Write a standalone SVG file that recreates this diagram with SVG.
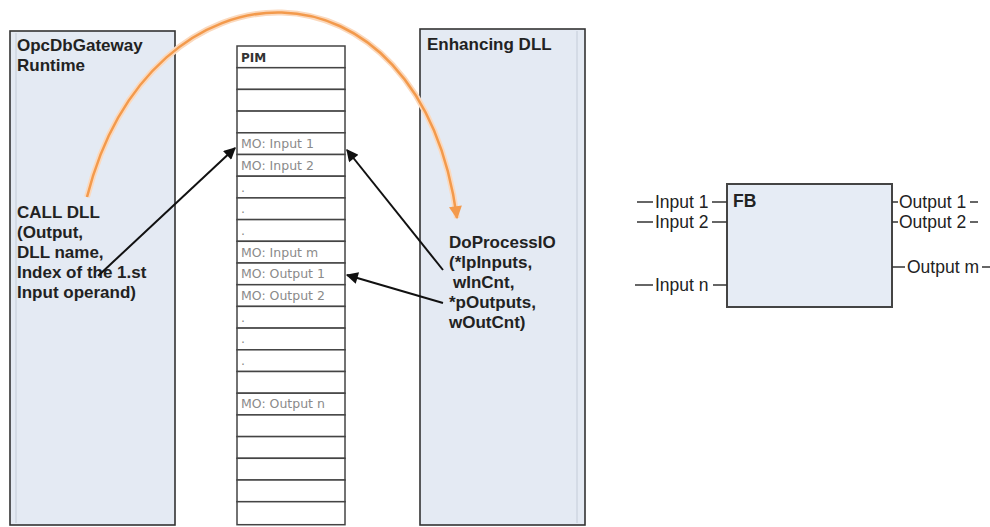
<svg xmlns="http://www.w3.org/2000/svg" width="990" height="527" viewBox="0 0 990 527">
<defs>
<style>
.box{fill:#e4eaf3;stroke:#333;stroke-width:1.6}
.inner{fill:none;stroke:#c4ccd8;stroke-width:1}
.bold{font-family:"Liberation Sans",Arial,sans-serif;font-weight:bold;font-size:17px;fill:#222}
.lbl{font-family:"Liberation Sans",Arial,sans-serif;font-size:17.5px;fill:#222}
.cell{fill:#fff;stroke:#444;stroke-width:1.5}
.mo{font-family:"DejaVu Sans",sans-serif;font-size:12.5px;fill:#8a8a8a}
.pim{font-family:"DejaVu Sans",sans-serif;font-size:12px;fill:#333;font-weight:bold}
.arr{fill:none;stroke:#111;stroke-width:2}
.pin{stroke:#333;stroke-width:1.5}
</style>
<marker id="ah" viewBox="0 0 10 10" refX="9" refY="5" markerWidth="15" markerHeight="12" markerUnits="userSpaceOnUse" orient="auto">
<path d="M0,0 L10,5 L0,10 z" fill="#111"/>
</marker>
<marker id="oh" viewBox="0 0 10 10" refX="9" refY="5" markerWidth="16" markerHeight="13" markerUnits="userSpaceOnUse" orient="auto">
<path d="M0,0 L10,5 L0,10 z" fill="#f39a4c"/>
</marker>
</defs>
<rect width="990" height="527" fill="#fff"/>

<g id="node-runtime">
<rect class="box" x="10" y="31" width="165" height="494"/>
<line class="inner" x1="16" y1="33" x2="16" y2="523"/>
<text class="bold" x="17" y="51">OpcDbGateway</text>
<text class="bold" x="17" y="71">Runtime</text>
<text class="bold" x="17" y="218">CALL DLL</text>
<text class="bold" x="17" y="238">(Output,</text>
<text class="bold" x="17" y="258">DLL name,</text>
<text class="bold" x="17" y="278">Index of the 1.st</text>
<text class="bold" x="17" y="298">Input operand)</text>
</g>

<g id="node-pim">
<rect class="cell" x="237" y="46" width="108" height="21.7"/>
<rect class="cell" x="237" y="67.7" width="108" height="21.7"/>
<rect class="cell" x="237" y="89.4" width="108" height="21.7"/>
<rect class="cell" x="237" y="111.1" width="108" height="21.7"/>
<rect class="cell" x="237" y="132.8" width="108" height="21.7"/>
<rect class="cell" x="237" y="154.5" width="108" height="21.7"/>
<rect class="cell" x="237" y="176.2" width="108" height="21.7"/>
<rect class="cell" x="237" y="197.9" width="108" height="21.7"/>
<rect class="cell" x="237" y="219.6" width="108" height="21.7"/>
<rect class="cell" x="237" y="241.3" width="108" height="21.7"/>
<rect class="cell" x="237" y="263" width="108" height="21.7"/>
<rect class="cell" x="237" y="284.7" width="108" height="21.7"/>
<rect class="cell" x="237" y="306.4" width="108" height="21.7"/>
<rect class="cell" x="237" y="328.1" width="108" height="21.7"/>
<rect class="cell" x="237" y="349.8" width="108" height="21.7"/>
<rect class="cell" x="237" y="371.5" width="108" height="21.7"/>
<rect class="cell" x="237" y="393.2" width="108" height="21.7"/>
<rect class="cell" x="237" y="414.9" width="108" height="21.7"/>
<rect class="cell" x="237" y="436.6" width="108" height="21.7"/>
<rect class="cell" x="237" y="458.3" width="108" height="21.7"/>
<rect class="cell" x="237" y="480" width="108" height="21.7"/>
<rect class="cell" x="237" y="501.7" width="108" height="23"/>
<text class="pim" x="241" y="62">PIM</text>
<text class="mo" x="241" y="148">MO: Input 1</text>
<text class="mo" x="241" y="170">MO: Input 2</text>
<text class="mo" x="241" y="192">.</text>
<text class="mo" x="241" y="213">.</text>
<text class="mo" x="241" y="235">.</text>
<text class="mo" x="241" y="257">MO: Input m</text>
<text class="mo" x="241" y="278">MO: Output 1</text>
<text class="mo" x="241" y="300">MO: Output 2</text>
<text class="mo" x="241" y="322">.</text>
<text class="mo" x="241" y="343">.</text>
<text class="mo" x="241" y="365">.</text>
<text class="mo" x="241" y="408">MO: Output n</text>
</g>

<g id="node-dll">
<rect class="box" x="420" y="29" width="165" height="496"/>
<line class="inner" x1="577" y1="31" x2="577" y2="523"/>
<text class="bold" x="427" y="50">Enhancing DLL</text>
<text class="bold" x="449" y="248">DoProcessIO</text>
<text class="bold" x="449" y="268">(*lpInputs,</text>
<text class="bold" x="453" y="288">wInCnt,</text>
<text class="bold" x="449" y="308">*pOutputs,</text>
<text class="bold" x="449" y="328">wOutCnt)</text>
</g>

<g id="node-fb">
<rect x="727" y="184" width="165" height="123" fill="#e6ecf5" stroke="#444" stroke-width="2"/>
<text class="bold" x="733" y="207" style="font-size:17.5px">FB</text>
<line class="pin" x1="637" y1="202" x2="653" y2="202"/>
<text class="lbl" x="655" y="208">Input 1</text>
<line class="pin" x1="712" y1="202" x2="727" y2="202"/>
<line class="pin" x1="637" y1="222" x2="653" y2="222"/>
<text class="lbl" x="655" y="228">Input 2</text>
<line class="pin" x1="712" y1="222" x2="727" y2="222"/>
<line class="pin" x1="635" y1="285" x2="653" y2="285"/>
<text class="lbl" x="655" y="291">Input n</text>
<line class="pin" x1="713" y1="285" x2="727" y2="285"/>
<line class="pin" x1="892" y1="202" x2="898" y2="202"/>
<text class="lbl" x="899" y="208">Output 1</text>
<line class="pin" x1="970" y1="202" x2="978" y2="202"/>
<line class="pin" x1="892" y1="222" x2="898" y2="222"/>
<text class="lbl" x="899" y="228">Output 2</text>
<line class="pin" x1="970" y1="222" x2="978" y2="222"/>
<line class="pin" x1="892" y1="267" x2="905" y2="267"/>
<text class="lbl" x="907" y="273">Output m</text>
<line class="pin" x1="982" y1="267" x2="990" y2="267"/>
</g>

<g id="connectors">
<path d="M87,197 C150,-50 420,-55 457,218" fill="none" stroke="#fbd9bd" stroke-width="6"/>
<path d="M87,197 C150,-50 420,-55 457,218" fill="none" stroke="#f39a4c" stroke-width="2.5" marker-end="url(#oh)"/>
<line class="arr" x1="98" y1="276" x2="235" y2="148" marker-end="url(#ah)"/>
<line class="arr" x1="443" y1="270" x2="347" y2="150" marker-end="url(#ah)"/>
<line class="arr" x1="443" y1="303" x2="347" y2="275" marker-end="url(#ah)"/>
</g>
</svg>
